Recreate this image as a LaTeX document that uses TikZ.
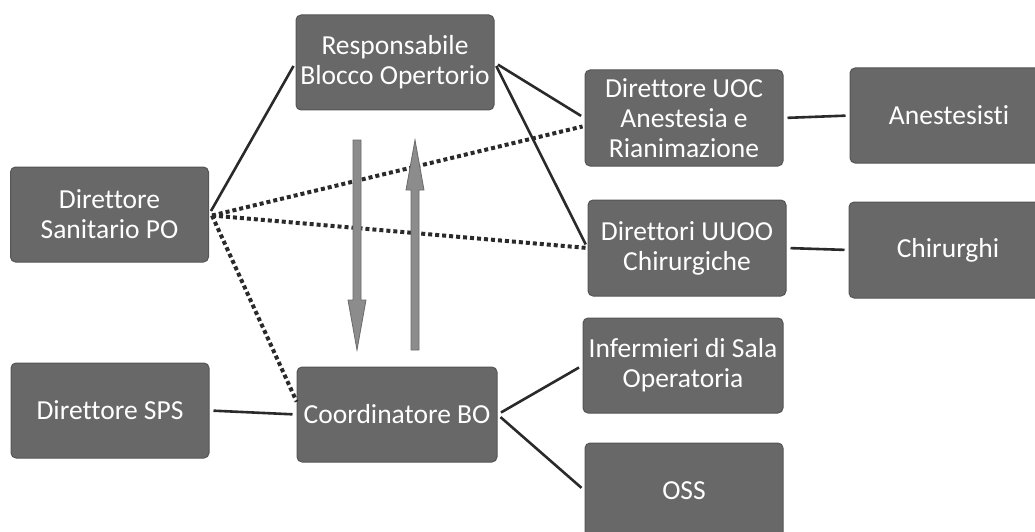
\documentclass[tikz,border=0pt]{standalone}
\usepackage{fontspec}
\setmainfont[Ligatures=NoCommon]{Carlito}
\usetikzlibrary{calc}
\definecolor{boxfill}{HTML}{686868}
\definecolor{boxedge}{HTML}{555555}
\definecolor{linecol}{HTML}{2A2A2A}
\definecolor{arrfill}{HTML}{8C8C8C}
\definecolor{arredge}{HTML}{6A6A6A}
\begin{document}
\begin{tikzpicture}[x=1pt,y=-1pt,
  orgbox/.style={draw=boxedge, line width=1pt, fill=boxfill, rounded corners=5pt,
    text=white, align=center, inner sep=0pt, minimum width=198pt, minimum height=95pt,
    font=\fontsize{27.5}{30}\selectfont},
  solidlink/.style={draw=linecol, line width=2.6pt, shorten <=4pt, shorten >=4pt},
  dotlink/.style={draw=linecol, line width=4pt, dash pattern=on 4pt off 3pt, shorten >=2pt},
  flowarrow/.style={fill=arrfill, draw=arredge, line width=0.8pt}]
\useasboundingbox (0,0) rectangle (1035,532);

\node[orgbox] (Resp) at (395,62.5) {Responsabile\\Blocco Opertorio};
\node[orgbox] (DirSan) at (109.5,214.5) {Direttore\\Sanitario PO};
\node[orgbox] (DirSPS) at (110,410.5) {Direttore SPS};
\node[orgbox, minimum width=200pt] (Coord) at (397,414.5) {Coordinatore BO};
\node[orgbox, minimum height=96pt] (UOC) at (684,118) {Direttore UOC\\Anestesia e\\Rianimazione};
\node[orgbox, minimum height=96pt] (UUOO) at (687,248) {Direttori UUOO\\Chirurgiche};
\node[orgbox] (Anest) at (949,115.5) {Anestesisti};
\node[orgbox, minimum height=96pt] (Chir) at (948,250) {Chirurghi};
\node[orgbox, minimum width=200pt] (Inf) at (683,365.5) {Infermieri di Sala\\Operatoria};
\node[orgbox] (OSS) at (684,490.5) {OSS};

% solid connectors
\draw[solidlink] (DirSan.east) -- (Resp.west);
\draw[solidlink] (Resp.east) -- (UOC.west);
\draw[solidlink] (Resp.east) -- (UUOO.west);
\draw[solidlink] (DirSPS.east) -- (Coord.west);
\draw[solidlink] (Coord.east) -- (Inf.west);
\draw[solidlink] (Coord.east) -- (OSS.west);
\draw[solidlink] (UOC.east) -- (Anest.west);
\draw[solidlink] (UUOO.east) -- (Chir.west);

% dotted connectors
\coordinate (uocin) at ($(UOC.west)+(0,8)$);
\coordinate (coordin) at ($(Coord.west)+(1,-11)$);
\draw[dotlink] ($(DirSan.east)+(3,1)$) -- (uocin);
\draw[dotlink] ($(DirSan.east)+(3,1)$) -- (UUOO.west);
\draw[dotlink] ($(DirSan.east)+(3,1)$) -- (coordin);

% vertical arrows
\coordinate (downtop) at (357,140);
\coordinate (downtip) at (357,350);
\coordinate (uptip) at (415,140);
\coordinate (upbot) at (415,350);
\draw[flowarrow] ($(downtop)+(-4,0)$) -- ($(downtip)+(-4,-50)$) -- ($(downtip)+(-9,-50)$)
  -- (downtip) -- ($(downtip)+(9,-50)$) -- ($(downtip)+(4,-50)$) -- ($(downtop)+(4,0)$) -- cycle;
\draw[flowarrow] ($(upbot)+(-4,0)$) -- ($(uptip)+(-4,50)$) -- ($(uptip)+(-9,50)$)
  -- (uptip) -- ($(uptip)+(9,50)$) -- ($(uptip)+(4,50)$) -- ($(upbot)+(4,0)$) -- cycle;
\end{tikzpicture}
\end{document}
